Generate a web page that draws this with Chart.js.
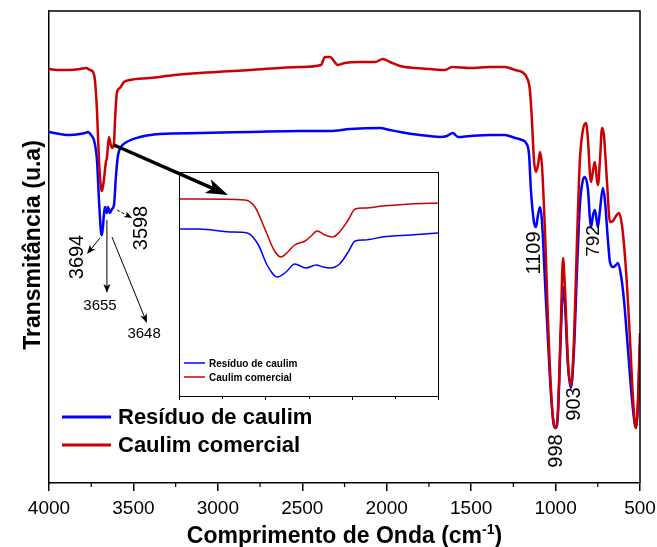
<!DOCTYPE html>
<html><head><meta charset="utf-8">
<script src="https://cdn.jsdelivr.net/npm/chart.js@4"></script>
<style>
html,body{margin:0;padding:0;background:#fff;}
#wrap{position:relative;width:657px;height:547px;background:#fff;}
#main{position:absolute;left:0;top:0;}
#inset{position:absolute;left:170px;top:165px;}
</style></head><body>
<div id="wrap"><canvas id="main" width="657" height="547"></canvas><canvas id="inset" width="280" height="245"></canvas></div>
<script>
// ---------- data (wavenumber in cm-1, transmittance in arbitrary units) ----------
const wavenumberTicks = [4000, 3500, 3000, 2500, 2000, 1500, 1000, 500];
const minorTicks = [3750, 3250, 2750, 2250, 1750, 1250, 750];
const insetMajorTicks = [3800, 3700, 3600, 3500];
const insetMinorTicks = [3750, 3650, 3550];
const seriesNames = ['Resíduo de caulim', 'Caulim comercial'];
const xTitle = 'Comprimento de Onda (cm';
const xTitleSup = '-1';
const yTitle = 'Transmitância (u.a)';
const peakLabels = ['3694', '3598', '3655', '3648', '1109', '792', '998', '903'];

const redWn = [4000,3935,3876,3816,3781,3757,3739,3728,3716,3704,3692,3686,3675,3663,3657,3645,3633,3627,3615,3609,3597,3580,3556,3520,3402,3254,3106,2810,2514,2389,2366,2336,2289,2247,2158,2069,2022,1981,1921,1833,1744,1655,1613,1507,1388,1300,1240,1199,1169,1152,1140,1128,1116,1104,1092,1081,1063,1045,1027,1010,998,986,968,956,944,927,909,891,873,856,838,820,808,796,790,778,767,755,749,737,725,714,696,678,660,642,625,607,583,559,541,524,512,500];
const redT  = [414,413,413,414,415,413,411,403,373,323,295,292,303,321,325,346,337,335,340,363,391,395,401,403,405,408,410,413,416,418,426,426,418,420,421,421,424,421,417,415,414,413,416,415,416,416,413,411,405,393,363,323,311,318,331,318,253,163,93,58,55,73,163,225,193,123,97,143,243,323,353,360,343,308,301,313,321,303,298,323,355,348,303,261,262,267,270,258,213,143,83,55,83,150];

const blueWn = [4000,3935,3876,3816,3787,3769,3751,3734,3716,3704,3692,3686,3675,3669,3657,3651,3639,3627,3615,3603,3591,3574,3550,3461,3343,3106,2810,2514,2336,2217,2040,1981,1921,1803,1685,1643,1608,1578,1507,1388,1300,1240,1199,1175,1157,1146,1128,1116,1104,1092,1081,1063,1045,1027,1010,998,986,968,956,944,927,909,891,873,856,838,826,808,796,790,778,767,755,749,737,720,708,690,678,660,642,631,613,595,571,547,524,512,500];
const blueT  = [351,349,348,349,350,351,348,343,323,283,251,248,268,276,270,276,270,274,278,308,328,336,340,346,349,350,351,352,352,354,355,353,351,348,346,347,350,346,347,348,348,345,343,340,328,293,261,256,268,276,263,203,143,88,58,55,68,153,196,178,118,95,133,213,278,303,306,293,263,256,268,273,261,256,273,295,283,243,221,216,218,220,208,183,133,83,55,78,138];

// inset (zoom of the 3800-3500 cm-1 OH region)
const insetRedWn = [3800,3776,3724,3712,3700,3690,3682,3674,3666,3654,3647,3640,3631,3622,3614,3604,3596,3585,3564,3532,3500];
const insetRedT  = [197,197,196,189,166,146,139,144,151,155,160,165,161,159,164,176,187,188,190,192,193];
const insetBlueWn = [3800,3776,3741,3721,3708,3698,3686,3676,3666,3653,3641,3633,3625,3614,3604,3596,3585,3564,3532,3500];
const insetBlueT  = [167,167,164,163,151,131,119,124,132,128,131,129,128,132,144,155,156,159,161,163];

// ---------- helpers ----------
const FONT = "Arial, 'Liberation Sans', sans-serif";
const BLUE = '#0000ff', RED = '#cc0000';
const toXY = (xs, ys) => xs.map((x, i) => ({ x: x, y: ys[i] }));

// annotation anchors in data coordinates
const labelAnchors = [
  { x: 3840, y: 226, rot: true, size: 20 },
  { x: 3461, y: 255, rot: true, size: 20 },
  { x: 3698, y: 178, rot: false, size: 15 },
  { x: 3437, y: 150, rot: false, size: 15 },
  { x: 1128, y: 230, rot: true, size: 20 },
  { x: 778,  y: 242, rot: true, size: 19 },
  { x: 998,  y: 32,  rot: true, size: 20 },
  { x: 891,  y: 79,  rot: true, size: 20 }
];
const arrowsData = [
  { x1: 3698, y1: 245, x2: 3775, y2: 229, lw: 1, hl: 9, hw: 7 },
  { x1: 3657, y1: 263, x2: 3657, y2: 190, lw: 1, hl: 9, hw: 7 },
  { x1: 3627, y1: 246, x2: 3420, y2: 160, lw: 1, hl: 9, hw: 7 },
  { x1: 3597, y1: 273, x2: 3508, y2: 265, lw: 1, hl: 8, hw: 6, dash: [3, 2] },
  { x1: 3615, y1: 338, x2: 2940, y2: 288, lw: 3.5, hl: 22, hw: 15 }
];

function drawArrow(ctx, x1, y1, x2, y2, lw, hl, hw, dash) {
  const ang = Math.atan2(y2 - y1, x2 - x1), c = Math.cos(ang), s = Math.sin(ang);
  const bx = x2 - hl * c, by = y2 - hl * s;
  ctx.save();
  ctx.strokeStyle = '#000'; ctx.fillStyle = '#000'; ctx.lineWidth = lw;
  if (dash) ctx.setLineDash(dash);
  ctx.beginPath(); ctx.moveTo(x1, y1); ctx.lineTo(x2 - hl * 0.7 * c, y2 - hl * 0.7 * s); ctx.stroke();
  ctx.setLineDash([]);
  ctx.beginPath();
  ctx.moveTo(x2, y2);
  ctx.lineTo(bx + hw / 2 * s, by - hw / 2 * c);
  ctx.lineTo(x2 - hl * 0.75 * c, y2 - hl * 0.75 * s);
  ctx.lineTo(bx - hw / 2 * s, by + hw / 2 * c);
  ctx.closePath(); ctx.fill();
  ctx.restore();
}

const mainDecor = {
  id: 'mainDecor',
  afterDraw(chart) {
    const { ctx, chartArea: a } = chart;
    const x = chart.scales.x, y = chart.scales.y;
    ctx.save();
    // box (top/right)
    ctx.strokeStyle = '#000'; ctx.lineWidth = 1.5;
    ctx.beginPath(); ctx.moveTo(a.left, a.top); ctx.lineTo(a.right, a.top); ctx.lineTo(a.right, a.bottom); ctx.stroke();
    // minor ticks
    ctx.lineWidth = 1.2;
    minorTicks.forEach(v => {
      const px = x.getPixelForValue(v);
      ctx.beginPath(); ctx.moveTo(px, a.bottom); ctx.lineTo(px, a.bottom + 4); ctx.stroke();
    });
    // axis titles
    ctx.fillStyle = '#000';
    ctx.textBaseline = 'alphabetic';
    const fMain = 'bold 23px ' + FONT, fSup = 'bold 14px ' + FONT;
    ctx.font = fMain; const w1 = ctx.measureText(xTitle).width; const w3 = ctx.measureText(')').width;
    ctx.font = fSup; const w2 = ctx.measureText(xTitleSup).width;
    let tx = (a.left + a.right) / 2 - (w1 + w2 + w3) / 2;
    const ty = 543;
    ctx.textAlign = 'left';
    ctx.font = fMain; ctx.fillText(xTitle, tx, ty);
    ctx.font = fSup; ctx.fillText(xTitleSup, tx + w1, ty - 9);
    ctx.font = fMain; ctx.fillText(')', tx + w1 + w2, ty);
    ctx.save();
    ctx.translate(40, (a.top + a.bottom) / 2 - 2);
    ctx.rotate(-Math.PI / 2);
    ctx.textAlign = 'center';
    ctx.font = 'bold 23px ' + FONT;
    ctx.fillText(yTitle, 0, 0);
    ctx.restore();
    // legend
    const lg = [{ c: BLUE, t: seriesNames[0], y: a.bottom - 66 }, { c: RED, t: seriesNames[1], y: a.bottom - 38 }];
    ctx.font = 'bold 22px ' + FONT; ctx.textAlign = 'left'; ctx.textBaseline = 'middle';
    lg.forEach(l => {
      ctx.strokeStyle = l.c; ctx.lineWidth = 3;
      ctx.beginPath(); ctx.moveTo(a.left + 13, l.y); ctx.lineTo(a.left + 62, l.y); ctx.stroke();
      ctx.fillStyle = '#000'; ctx.fillText(l.t, a.left + 69, l.y + 1);
    });
    // arrows
    arrowsData.forEach(r => drawArrow(ctx, x.getPixelForValue(r.x1), y.getPixelForValue(r.y1),
      x.getPixelForValue(r.x2), y.getPixelForValue(r.y2), r.lw, r.hl, r.hw, r.dash));
    // peak labels
    ctx.fillStyle = '#000'; ctx.textAlign = 'center'; ctx.textBaseline = 'middle';
    labelAnchors.forEach((p, i) => {
      const px = x.getPixelForValue(p.x), py = y.getPixelForValue(p.y);
      ctx.font = p.size + 'px ' + FONT;
      ctx.save(); ctx.translate(px, py);
      if (p.rot) ctx.rotate(-Math.PI / 2);
      ctx.fillText(peakLabels[i], 0, 1);
      ctx.restore();
    });
    ctx.restore();
  }
};

new Chart(document.getElementById('main'), {
  type: 'line',
  data: {
    datasets: [
      { label: seriesNames[1], data: toXY(redWn, redT), borderColor: RED, borderWidth: 2.5, pointRadius: 0, cubicInterpolationMode: 'monotone', fill: false },
      { label: seriesNames[0], data: toXY(blueWn, blueT), borderColor: BLUE, borderWidth: 2.5, pointRadius: 0, cubicInterpolationMode: 'monotone', fill: false }
    ]
  },
  options: {
    responsive: false, animation: false, devicePixelRatio: 1,
    layout: { padding: { top: 11, right: 0, left: 0, bottom: 0 } },
    plugins: { legend: { display: false }, tooltip: { enabled: false } },
    scales: {
      x: {
        type: 'linear', min: 500, max: 4000, reverse: true,
        afterFit: s => { s.height = 64; s.paddingRight = 17; s.paddingLeft = 0; },
        border: { display: true, color: '#000', width: 1.5 },
        grid: { display: true, drawOnChartArea: false, drawTicks: true, tickLength: 8, color: '#000', lineWidth: 1.5 },
        ticks: {
          stepSize: 500, autoSkip: false, maxRotation: 0, padding: 6, color: '#000',
          font: { family: FONT, size: 19 },
          callback: v => (wavenumberTicks.includes(v) ? String(v) : '')
        }
      },
      y: {
        type: 'linear', min: 0, max: 472,
        afterFit: s => { s.width = 49; },
        border: { display: true, color: '#000', width: 1.5 },
        grid: { display: false },
        ticks: { display: false }
      }
    }
  },
  plugins: [mainDecor]
});

const insetDecor = {
  id: 'insetDecor',
  afterDraw(chart) {
    const { ctx, chartArea: a } = chart;
    const x = chart.scales.x;
    ctx.save();
    ctx.strokeStyle = '#000'; ctx.lineWidth = 1;
    ctx.strokeRect(a.left + 0.5, a.top + 0.5, a.right - a.left, a.bottom - a.top);
    insetMajorTicks.forEach(v => { const px = Math.round(x.getPixelForValue(v)) + 0.5; ctx.beginPath(); ctx.moveTo(px, a.bottom); ctx.lineTo(px, a.bottom + 4); ctx.stroke(); });
    insetMinorTicks.forEach(v => { const px = Math.round(x.getPixelForValue(v)) + 0.5; ctx.beginPath(); ctx.moveTo(px, a.bottom); ctx.lineTo(px, a.bottom + 3); ctx.stroke(); });
    const lg = [{ c: BLUE, t: seriesNames[0], y: a.top + 191 }, { c: RED, t: seriesNames[1], y: a.top + 205 }];
    ctx.font = 'bold 10px ' + FONT; ctx.textAlign = 'left'; ctx.textBaseline = 'middle';
    lg.forEach(l => {
      ctx.strokeStyle = l.c; ctx.lineWidth = 1.5;
      ctx.beginPath(); ctx.moveTo(a.left + 5, l.y); ctx.lineTo(a.left + 26, l.y); ctx.stroke();
      ctx.fillStyle = '#000'; ctx.fillText(l.t, a.left + 30, l.y + 1);
    });
    ctx.restore();
  }
};

new Chart(document.getElementById('inset'), {
  type: 'line',
  data: {
    datasets: [
      { label: seriesNames[1], data: toXY(insetRedWn, insetRedT), borderColor: RED, borderWidth: 1.5, pointRadius: 0, cubicInterpolationMode: 'monotone', fill: false },
      { label: seriesNames[0], data: toXY(insetBlueWn, insetBlueT), borderColor: BLUE, borderWidth: 1.5, pointRadius: 0, cubicInterpolationMode: 'monotone', fill: false }
    ]
  },
  options: {
    responsive: false, animation: false, devicePixelRatio: 1,
    layout: { padding: { left: 9, top: 7, right: 12, bottom: 14 } },
    plugins: { legend: { display: false }, tooltip: { enabled: false } },
    scales: {
      x: { type: 'linear', min: 3500, max: 3800, reverse: true, display: false },
      y: { type: 'linear', min: 0, max: 224, display: false }
    }
  },
  plugins: [insetDecor]
});
</script>
</body></html>
